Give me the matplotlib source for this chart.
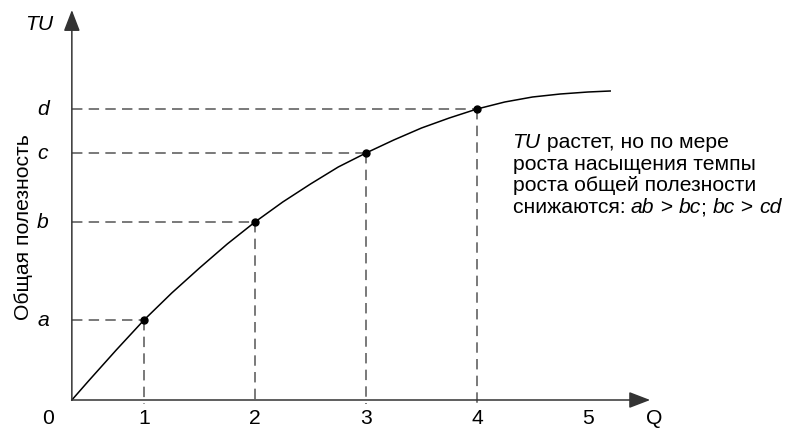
import matplotlib.pyplot as plt

plt.rcParams['font.family'] = ['Liberation Sans', 'DejaVu Sans']
plt.rcParams['lines.scale_dashes'] = False

# Data (TU in arbitrary units)
q_ticks = [1, 2, 3, 4, 5]
q_points = [1, 2, 3, 4]
tu_points = [80, 178, 247, 291]
level_labels = ['a', 'b', 'c', 'd']
curve_q = [0.35, 0.5, 0.75, 1.0, 1.25, 1.5, 1.75, 2.0, 2.25, 2.5, 2.75, 3.0,
           3.25, 3.5, 3.75, 4.0, 4.25, 4.5, 4.75, 5.0, 5.2]
curve_tu = [0, 19, 50, 80, 107, 132, 156, 178, 198, 216, 233, 247,
            260, 272, 282, 291, 298, 303, 306, 308, 309]
q0 = 0.35  # where the axes cross

# note text: (piece, italic?)
note_lines = [
    [('TU', True), (' растет, но по мере', False)],
    [('роста насыщения темпы', False)],
    [('роста общей полезности', False)],
    [('снижаются: ', False), ('ab', True), (' > ', False), ('bc', True),
     ('; ', False), ('bc', True), (' > ', False), ('cd', True)],
]

axis_color = '#333333'
dash_color = '#555555'
fs = 15.2

fig = plt.figure(figsize=(7.85, 4.28), dpi=100)
ax = fig.add_axes([0, 0, 1, 1])
ax.set_xlim(-33 / 111, 752 / 111)
ax.set_ylim(-28, 400)
ax.axis('off')

# axes with arrows
arrow = dict(arrowstyle='-|>,head_length=1.3,head_width=0.5', lw=1.1,
             color=axis_color, shrinkA=0, shrinkB=0)
ax.annotate('', xy=(q0, 390), xytext=(q0, 0), arrowprops=arrow)
ax.annotate('', xy=(5.56, 0), xytext=(q0, 0), arrowprops=arrow)

# dashed guides
for q, tu in zip(q_points, tu_points):
    ax.plot([q0, q], [tu, tu], color=dash_color, lw=1.1, dashes=(7.5, 4.5))
    ax.plot([q, q], [tu, -4], color=dash_color, lw=1.1, dashes=(7.5, 4.5))

# curve and points
ax.plot(curve_q, curve_tu, color='black', lw=1.1)
ax.plot(q_points, tu_points, 'o', color='black', ms=5)

# labels
for tu, lab in zip(tu_points, level_labels):
    ax.text(0.09, tu, lab, fontsize=fs, style='italic', ha='center', va='center')
for q in q_ticks:
    ax.text(q, -19, str(q), fontsize=fs, ha='center', va='center')
ax.text(0.14, -19, '0', fontsize=fs, ha='center', va='center')
ax.text(5.6, -19, 'Q', fontsize=fs, ha='center', va='center')
ax.text(0.055, 376, 'TU', fontsize=fs, style='italic', ha='center', va='center')
ax.text(-0.09, 173, 'Общая полезность', fontsize=fs, rotation=90,
        ha='center', va='center')

# note, pieces chained one after another
for i, pieces in enumerate(note_lines):
    prev = None
    for s, it in pieces:
        style = 'italic' if it else 'normal'
        if prev is None:
            prev = ax.text(4.32, 252 - i * 21.7, s, fontsize=fs, style=style,
                           ha='left', va='baseline')
        else:
            prev = ax.annotate(s, xy=(1, 0), xycoords=prev, fontsize=fs,
                               style=style, ha='left', va='bottom')

fig.savefig('out.png', dpi=100)
